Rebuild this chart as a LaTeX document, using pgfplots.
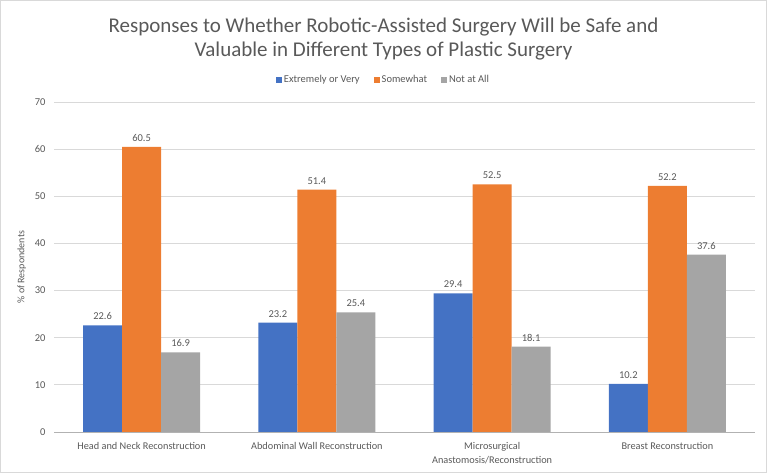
\documentclass[border=0pt]{standalone}
\usepackage{pgfplots}
\pgfplotsset{compat=1.18}
\usepackage{fontspec}
\setmainfont{Carlito}
\definecolor{cblue}{HTML}{4472C4}
\definecolor{corange}{HTML}{ED7D31}
\definecolor{cgray}{HTML}{A5A5A5}
\definecolor{txt}{HTML}{595959}
\definecolor{gridc}{HTML}{D9D9D9}
\begin{document}
\begin{tikzpicture}
\useasboundingbox (0pt,0pt) rectangle (767pt,473pt);
\draw[color=gridc, line width=0.8pt] (0.5pt,0.5pt) rectangle (766.5pt,472.5pt);
\node[align=center, text=txt, font=\fontsize{21}{24}\selectfont] at (383.5pt,434pt) {Responses to Whether Robotic-Assisted Surgery Will be Safe and\\Valuable in Different Types of Plastic Surgery};
\begin{axis}[at={(54pt,41pt)}, anchor=south west, scale only axis, width=701pt, height=330pt,
  ybar=0pt, bar width=39pt,
  xmin=-0.5, xmax=3.5, ymin=0, ymax=70, ytick={0,10,...,70},
  xtick={0,1,2,3},
  xticklabels={Head and Neck Reconstruction, Abdominal Wall Reconstruction, Microsurgical\\Anastomosis/Reconstruction, Breast Reconstruction},
  axis x line*=bottom, axis y line*=left,
  y axis line style={draw=none}, x axis line style={draw=gray!60,-},
  major tick length=0pt,
  ymajorgrids, grid style={gridc, line width=0.8pt},
  /pgf/number format/assume math mode=true,
  yticklabel style={font=\fontsize{10.5}{12}\selectfont, text=txt, xshift=-5pt},
  xticklabel style={font=\fontsize{10.3}{13.5}\selectfont, text=txt, align=center, yshift=-7pt, anchor=north},
  ylabel={\% of Respondents},
  ylabel style={at={(axis description cs:-0.046,0.5)}, anchor=center, font=\fontsize{10}{12}\selectfont, text=txt},
  nodes near coords,
  nodes near coords style={font=\fontsize{10.5}{12}\selectfont, text=txt, yshift=2pt, /pgf/number format/.cd, fixed, fixed zerofill, precision=1, assume math mode=true},
  legend style={at={(0.47,1.0667)}, anchor=center, draw=none, legend columns=3, font=\fontsize{10.5}{12}\selectfont, text=txt, /tikz/every even column/.append style={column sep=12pt}},
  legend image code/.code={\fill[#1] (0pt,-3pt) rectangle (6pt,3pt);},
]
\addplot[fill=cblue, draw=none] coordinates {(0,22.6) (1,23.2) (2,29.4) (3,10.2)};
\addplot[fill=corange, draw=none] coordinates {(0,60.5) (1,51.4) (2,52.5) (3,52.2)};
\addplot[fill=cgray, draw=none] coordinates {(0,16.9) (1,25.4) (2,18.1) (3,37.6)};
\legend{Extremely or Very, Somewhat, Not at All}
\end{axis}
\end{tikzpicture}
\end{document}
